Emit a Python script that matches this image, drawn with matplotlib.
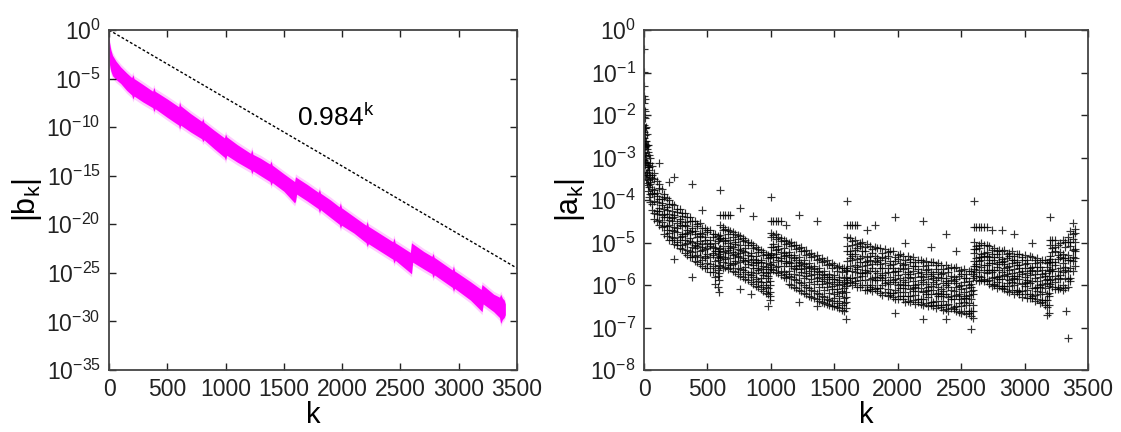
import numpy as np
import matplotlib
matplotlib.use("Agg")
import matplotlib.pyplot as plt

plt.rcParams['font.family'] = ['Liberation Sans', 'DejaVu Sans']
plt.rcParams['mathtext.fontset'] = 'custom'
plt.rcParams['mathtext.rm'] = 'Liberation Sans'
plt.rcParams['mathtext.it'] = 'Liberation Sans:italic'
plt.rcParams['mathtext.default'] = 'regular'

# ---- left panel: |b_k| band (log10 of upper / lower edge)
b_k = [0, 5, 15, 30, 60, 100, 150, 195, 205, 215, 290, 375, 385, 395, 500, 598, 605, 615,
       700, 795, 805, 815, 900, 990, 1000, 1010, 1100, 1215, 1225, 1235, 1300, 1380, 1390,
       1400, 1500, 1592, 1600, 1610, 1700, 1795, 1805, 1815, 1900, 1975, 1985, 1995, 2100,
       2205, 2215, 2225, 2330, 2435, 2445, 2455, 2585, 2595, 2605, 2700, 2770, 2780, 2790,
       2945, 2955, 2965, 3100, 3192, 3200, 3210, 3300, 3350, 3360, 3375, 3390, 3400]
b_hi = [-0.7, -1.3, -2.0, -2.6, -3.2, -3.8, -4.4, -4.9, -4.6, -5.0, -5.6, -6.3, -5.9, -6.3,
        -7.1, -7.9, -7.4, -7.8, -8.6, -9.4, -9.1, -9.5, -10.3, -11.1, -10.7, -11.0, -11.8,
        -12.7, -12.3, -12.8, -13.2, -13.8, -13.5, -13.9, -14.8, -15.6, -15.1, -15.2, -15.9,
        -16.7, -16.4, -16.8, -17.5, -18.2, -17.8, -18.3, -19.2, -20.1, -19.7, -20.2, -21.0,
        -21.8, -21.4, -21.9, -22.9, -21.9, -22.0, -22.8, -23.3, -23.0, -23.4, -24.7, -24.3,
        -24.8, -25.9, -26.7, -26.2, -26.3, -27.2, -27.5, -27.2, -27.6, -27.8, -28.2]
b_lo = [-2.6, -3.6, -4.2, -4.7, -5.1, -5.5, -6.2, -6.7, -7.1, -6.8, -7.4, -8.0, -8.4, -8.1,
        -9.0, -9.8, -10.2, -9.8, -10.5, -11.2, -11.5, -11.3, -12.2, -13.1, -13.4, -12.9,
        -13.6, -14.4, -14.8, -14.5, -15.0, -15.6, -16.0, -15.7, -16.6, -17.8, -17.6, -16.9,
        -17.6, -18.4, -18.8, -18.5, -19.3, -20.0, -20.4, -20.1, -20.9, -21.9, -22.3, -22.0,
        -22.8, -23.6, -24.0, -23.7, -25.0, -25.1, -23.9, -24.6, -25.1, -25.5, -25.2, -26.5,
        -26.9, -26.6, -27.8, -28.9, -29.0, -28.2, -29.0, -29.6, -30.2, -29.8, -29.6, -29.3]
b_tick_exp = [0, -5, -10, -15, -20, -25, -30, -35]

# ---- right panel: |a_k| points, columns of [k, -log10|a_k|, ...]
a_seg1 = [
    [0, 0.45, 0.98, 1.32, 1.55, 1.71, 1.86, 2.04, 2.23, 2.4, 2.55, 2.73, 2.9, 3.06],
    [5, 1.62, 1.91, 2.3, 2.47, 2.69, 2.95, 3.11],
    [10, 2.07, 2.31, 2.62, 2.75, 3.02, 3.18, 3.4],
    [15, 2.28, 2.6, 2.72, 2.97, 3.1, 3.36, 3.51],
    [20, 2.45, 2.71, 2.79, 3.12, 3.35, 3.41, 3.6],
    [30, 2.7, 2.86, 3.17, 3.23, 3.52, 3.64, 3.79],
    [40, 2.93, 3.22, 3.3, 3.41, 3.7, 3.94],
    [50, 3.02, 3.14, 3.45, 3.58, 3.62, 3.87, 4.05],
    [60, 3.2, 3.41, 3.48, 3.75, 3.83, 4.1, 4.24],
    [80, 3.36, 3.5, 3.77, 3.85, 4.02, 4.31, 4.44],
    [100, 3.55, 3.83, 3.9, 4.04, 4.27, 4.33, 4.5],
    [120, 3.12, 3.62, 3.71, 3.98, 4.19, 4.25, 4.47, 4.6],
    [140, 3.75, 3.97, 4.08, 4.12, 4.36, 4.51, 4.64],
    [160, 3.86, 3.93, 4.2, 4.34, 4.41, 4.62, 4.79],
    [180, 3.95, 4.16, 4.23, 4.39, 4.61, 4.7, 4.85],
    [200, 3.58, 4.01, 4.09, 4.33, 4.47, 4.58, 4.77, 4.94],
    [220, 4.1, 4.27, 4.42, 4.49, 4.71, 4.88, 4.95],
    [240, 3.45, 4.12, 4.35, 4.4, 4.63, 4.72, 4.9, 5.04, 5.38],
    [260, 4.2, 4.29, 4.53, 4.67, 4.75, 4.98, 5.05],
    [280, 4.22, 4.44, 4.49, 4.6, 4.86, 4.93, 5.14],
    [300, 4.3, 4.38, 4.62, 4.79, 4.84, 5.06, 5.15],
    [320, 4.31, 4.52, 4.58, 4.81, 4.95, 5.03, 5.24],
    [340, 4.4, 4.61, 4.7, 4.77, 5.01, 5.18, 5.29],
    [360, 4.41, 4.5, 4.76, 4.9, 4.97, 5.2, 5.35],
    [380, 3.62, 4.5, 4.67, 4.74, 4.99, 5.11, 5.23, 5.35, 5.8],
    [400, 4.5, 4.73, 4.81, 5.05, 5.13, 5.32, 5.44],
    [420, 4.56, 4.62, 4.87, 5.0, 5.08, 5.29, 5.45],
    [440, 4.55, 4.78, 4.85, 4.96, 5.21, 5.34, 5.5],
    [460, 4.23, 4.66, 4.8, 5.03, 5.11, 5.17, 5.42, 5.55],
    [480, 4.65, 4.88, 4.94, 5.16, 5.31, 5.37, 5.6],
    [500, 4.7, 4.76, 5.01, 5.12, 5.26, 5.48, 5.59],
    [520, 4.71, 4.93, 5.04, 5.09, 5.33, 5.5, 5.7],
    [540, 4.8, 4.86, 5.1, 5.24, 5.3, 5.55, 5.69],
    [560, 4.81, 5.02, 5.13, 5.2, 5.44, 5.61, 5.8, 5.98],
    [580, 4.85, 4.97, 5.19, 5.35, 5.41, 5.64, 5.79, 6.05],
    [590, 4.92, 5.15, 5.28, 5.53, 5.72, 5.88, 6.16],
]
a_seg2 = [
    [600, 3.76, 4.35, 4.6, 4.83, 4.9, 5.14, 5.31, 5.37, 5.55],
    [620, 4.35, 4.64, 4.71, 4.95, 5.08, 5.22, 5.45, 5.6],
    [640, 4.35, 4.68, 4.9, 4.97, 5.19, 5.33, 5.39, 5.58],
    [660, 4.35, 4.7, 4.79, 5.02, 5.17, 5.25, 5.49, 5.63],
    [680, 4.35, 4.73, 4.95, 5.08, 5.12, 5.36, 5.52, 5.61],
    [700, 4.76, 4.86, 5.1, 5.23, 5.29, 5.5, 5.66],
    [720, 4.79, 4.98, 5.04, 5.27, 5.43, 5.48, 5.7],
    [740, 4.83, 4.91, 5.15, 5.31, 5.35, 5.6, 5.74],
    [760, 4.19, 4.85, 5.07, 5.18, 5.24, 5.47, 5.62, 5.78, 6.1],
    [780, 4.89, 4.96, 5.2, 5.36, 5.42, 5.64, 5.81],
    [800, 4.95, 5.14, 5.22, 5.43, 5.57, 5.69, 5.86],
    [820, 4.98, 5.05, 5.29, 5.41, 5.5, 5.74, 5.89],
    [840, 5.02, 5.24, 5.31, 5.47, 5.7, 5.77, 5.93, 6.2],
    [860, 4.38, 5.06, 5.14, 5.39, 5.53, 5.6, 5.82, 5.97],
    [880, 5.1, 5.31, 5.42, 5.49, 5.71, 5.86, 6.02],
    [900, 5.15, 5.22, 5.46, 5.6, 5.65, 5.9, 6.05],
    [920, 5.18, 5.4, 5.47, 5.63, 5.84, 5.93, 6.1],
    [940, 5.22, 5.3, 5.55, 5.69, 5.76, 5.99, 6.14],
    [960, 5.26, 5.48, 5.57, 5.71, 5.93, 6.04, 6.18],
    [980, 5.3, 5.37, 5.62, 5.78, 5.84, 6.08, 6.21, 6.5],
    [990, 5.33, 5.51, 5.69, 5.9, 6.0, 6.17, 6.27, 6.36],
]
a_seg3 = [
    [1000, 3.92, 4.5, 4.78, 4.86, 5.1, 5.24, 5.3, 5.52, 5.62],
    [1020, 4.5, 4.82, 5.03, 5.11, 5.35, 5.47, 5.65],
    [1040, 4.5, 4.8, 4.92, 5.17, 5.28, 5.34, 5.58, 5.69],
    [1060, 4.5, 4.87, 5.09, 5.16, 5.4, 5.55, 5.72],
    [1080, 4.5, 4.9, 4.97, 5.22, 5.36, 5.44, 5.66, 5.76],
    [1100, 4.93, 5.14, 5.25, 5.31, 5.55, 5.7, 5.8],
    [1120, 4.6, 4.96, 5.03, 5.29, 5.43, 5.49, 5.73, 5.84],
    [1140, 5.0, 5.22, 5.3, 5.46, 5.68, 5.79, 5.97],
    [1160, 4.99, 5.08, 5.34, 5.48, 5.55, 5.8, 6.01],
    [1180, 5.06, 5.29, 5.37, 5.6, 5.73, 5.86, 6.04],
    [1200, 5.05, 5.16, 5.42, 5.56, 5.62, 5.89, 6.08],
    [1220, 4.35, 5.12, 5.34, 5.45, 5.52, 5.77, 5.94, 6.12, 6.4],
    [1240, 5.11, 5.21, 5.48, 5.63, 5.7, 5.95, 6.15],
    [1260, 5.2, 5.42, 5.51, 5.6, 5.84, 6.0, 6.18],
    [1280, 5.18, 5.29, 5.55, 5.71, 5.78, 6.04, 6.2],
    [1300, 5.26, 5.49, 5.57, 5.67, 5.92, 6.07, 6.25],
    [1320, 5.24, 5.35, 5.61, 5.77, 5.85, 6.11, 6.28],
    [1340, 5.32, 5.55, 5.63, 5.74, 5.98, 6.14, 6.31],
    [1360, 4.5, 5.3, 5.41, 5.68, 5.84, 5.91, 6.19, 6.34, 6.5],
    [1380, 5.38, 5.61, 5.7, 5.8, 6.05, 6.21, 6.37],
    [1400, 5.36, 5.47, 5.74, 5.9, 5.98, 6.25, 6.4],
    [1420, 5.44, 5.67, 5.76, 5.87, 6.12, 6.28, 6.42],
    [1440, 5.42, 5.53, 5.8, 5.96, 6.04, 6.32, 6.45],
    [1460, 5.5, 5.73, 5.82, 5.94, 6.19, 6.35, 6.47],
    [1480, 5.48, 5.59, 5.86, 6.02, 6.1, 6.38, 6.5],
    [1500, 5.52, 5.76, 5.85, 5.97, 6.22, 6.31, 6.49],
    [1520, 5.58, 5.67, 5.93, 6.09, 6.16, 6.42, 6.52],
    [1540, 5.55, 5.8, 5.88, 6.01, 6.26, 6.37, 6.55],
    [1560, 5.61, 5.7, 5.97, 6.13, 6.19, 6.46, 6.58],
    [1580, 5.59, 5.83, 5.92, 6.06, 6.3, 6.43, 6.6],
    [1590, 5.65, 5.81, 6.02, 6.17, 6.28, 6.41, 6.53, 6.8],
]
a_seg4 = [
    [1600, 4.02, 4.6, 4.88, 5.09, 5.2, 5.44, 5.59, 5.67, 5.88, 5.95],
    [1620, 4.6, 4.9, 5.19, 5.27, 5.37, 5.56, 5.84, 5.94],
    [1640, 4.6, 4.96, 5.05, 5.32, 5.42, 5.67, 5.83, 5.99],
    [1660, 4.6, 4.94, 5.17, 5.26, 5.52, 5.7, 5.9, 5.96],
    [1680, 4.6, 5.04, 5.14, 5.39, 5.58, 5.63, 5.82, 6.04],
    [1700, 5.01, 5.09, 5.37, 5.47, 5.72, 5.89, 6.05],
    [1720, 4.98, 5.2, 5.31, 5.55, 5.71, 5.79, 6.0],
    [1740, 5.11, 5.21, 5.46, 5.65, 5.7, 5.89, 6.11],
    [1760, 4.7, 5.04, 5.34, 5.43, 5.52, 5.72, 6.01, 6.11],
    [1780, 5.09, 5.32, 5.4, 5.66, 5.85, 6.04, 6.1],
    [1800, 5.15, 5.24, 5.5, 5.59, 5.84, 6.0, 6.15],
    [1820, 4.6, 5.11, 5.32, 5.43, 5.66, 5.81, 5.89, 6.1],
    [1840, 5.14, 5.37, 5.45, 5.71, 5.89, 6.08, 6.14],
    [1860, 5.13, 5.42, 5.51, 5.61, 5.8, 6.08, 6.18],
    [1880, 5.24, 5.34, 5.59, 5.77, 5.83, 6.01, 6.23],
    [1900, 5.15, 5.37, 5.48, 5.72, 5.88, 5.96, 6.17],
    [1920, 5.23, 5.31, 5.59, 5.69, 5.94, 6.1, 6.27],
    [1940, 5.21, 5.44, 5.53, 5.8, 5.98, 6.18, 6.24],
    [1960, 5.21, 5.51, 5.6, 5.69, 5.89, 6.18, 6.28],
    [1980, 4.4, 5.33, 5.43, 5.68, 5.87, 5.92, 6.11, 6.33, 6.67],
    [2000, 5.3, 5.39, 5.66, 5.76, 6.01, 6.17, 6.33],
    [2020, 5.27, 5.49, 5.59, 5.83, 5.98, 6.07, 6.27],
    [2040, 5.31, 5.54, 5.62, 5.88, 6.07, 6.26, 6.32],
    [2060, 5.0, 5.41, 5.5, 5.75, 5.94, 5.99, 6.17, 6.39],
    [2080, 5.32, 5.61, 5.7, 5.8, 5.99, 6.27, 6.37],
    [2100, 5.38, 5.47, 5.74, 5.84, 6.09, 6.25, 6.41],
    [2120, 5.35, 5.56, 5.67, 5.91, 6.06, 6.14, 6.35],
    [2140, 5.47, 5.56, 5.81, 5.99, 6.04, 6.23, 6.44],
    [2160, 5.41, 5.63, 5.72, 5.97, 6.15, 6.34, 6.4],
    [2180, 5.41, 5.7, 5.78, 5.88, 6.07, 6.34, 6.44],
    [2200, 4.5, 5.47, 5.56, 5.82, 5.92, 6.16, 6.32, 6.48, 6.8],
    [2220, 5.43, 5.64, 5.75, 5.98, 6.13, 6.21, 6.42],
    [2240, 5.54, 5.63, 5.87, 6.05, 6.11, 6.29, 6.5],
    [2260, 5.1, 5.47, 5.69, 5.78, 6.03, 6.21, 6.4, 6.46],
    [2280, 5.46, 5.75, 5.83, 5.93, 6.12, 6.39, 6.49],
    [2300, 5.53, 5.62, 5.88, 5.98, 6.22, 6.38, 6.54],
    [2320, 5.49, 5.7, 5.81, 6.04, 6.19, 6.27, 6.48],
    [2340, 5.53, 5.75, 5.84, 6.09, 6.27, 6.46, 6.52],
    [2360, 5.63, 5.72, 5.96, 6.14, 6.2, 6.38, 6.59],
    [2380, 4.8, 5.54, 5.83, 5.91, 6.01, 6.2, 6.47, 6.57, 6.8],
    [2400, 5.61, 5.7, 5.96, 6.05, 6.29, 6.44, 6.6],
    [2420, 5.57, 5.78, 5.88, 6.11, 6.26, 6.34, 6.54],
    [2440, 5.6, 5.82, 5.9, 6.15, 6.33, 6.52, 6.57],
    [2460, 5.2, 5.58, 5.86, 5.95, 6.04, 6.23, 6.5, 6.6],
    [2480, 5.68, 5.78, 6.02, 6.2, 6.25, 6.43, 6.64],
    [2500, 5.65, 5.74, 6.0, 6.09, 6.34, 6.49, 6.65],
    [2520, 5.62, 5.83, 5.94, 6.17, 6.31, 6.4, 6.6],
    [2540, 5.73, 5.83, 6.07, 6.25, 6.3, 6.48, 6.69],
    [2560, 5.68, 5.9, 5.99, 6.24, 6.42, 6.6, 6.66],
    [2580, 5.68, 5.97, 6.05, 6.15, 6.34, 6.62, 6.72, 7.04],
    [2590, 5.75, 5.84, 6.11, 6.21, 6.46, 6.62, 6.78],
]
a_seg5 = [
    [2600, 4.02, 4.63, 4.98, 5.15, 5.24, 5.43, 5.55, 5.62, 5.79],
    [2620, 4.63, 5.08, 5.16, 5.36, 5.51, 5.55, 5.7, 5.88],
    [2640, 4.63, 5.06, 5.13, 5.35, 5.43, 5.64, 5.78, 5.91],
    [2660, 4.63, 5.02, 5.26, 5.34, 5.42, 5.58, 5.81, 5.89],
    [2680, 4.63, 5.06, 5.25, 5.32, 5.54, 5.69, 5.85, 5.9],
    [2700, 4.63, 5.05, 5.23, 5.32, 5.52, 5.65, 5.72, 5.9],
    [2720, 5.08, 5.33, 5.4, 5.48, 5.65, 5.89, 5.97],
    [2740, 4.7, 5.18, 5.27, 5.48, 5.64, 5.69, 5.84, 6.03],
    [2760, 5.14, 5.34, 5.41, 5.64, 5.8, 5.97, 6.01],
    [2780, 5.19, 5.26, 5.5, 5.58, 5.8, 5.94, 6.08],
    [2800, 5.17, 5.35, 5.45, 5.65, 5.78, 5.85, 6.03],
    [2820, 4.7, 5.2, 5.39, 5.47, 5.69, 5.85, 6.02, 6.06],
    [2840, 5.18, 5.44, 5.51, 5.6, 5.77, 6.02, 6.1],
    [2860, 5.28, 5.36, 5.58, 5.75, 5.79, 5.96, 6.15],
    [2880, 5.24, 5.32, 5.56, 5.65, 5.88, 6.02, 6.17],
    [2900, 5.2, 5.4, 5.49, 5.71, 5.85, 5.93, 6.11],
    [2920, 4.8, 5.31, 5.4, 5.62, 5.79, 5.84, 6.0, 6.2],
    [2940, 5.26, 5.47, 5.54, 5.78, 5.95, 6.12, 6.17],
    [2960, 5.26, 5.53, 5.61, 5.7, 5.87, 6.13, 6.22],
    [2980, 5.33, 5.41, 5.66, 5.75, 5.98, 6.13, 6.28],
    [3000, 5.3, 5.5, 5.59, 5.81, 5.95, 6.03, 6.21],
    [3020, 5.4, 5.49, 5.72, 5.89, 5.94, 6.11, 6.31],
    [3040, 5.32, 5.6, 5.68, 5.77, 5.95, 6.22, 6.31],
    [3060, 5.0, 5.35, 5.57, 5.65, 5.9, 6.07, 6.26, 6.31],
    [3080, 5.4, 5.48, 5.74, 5.83, 6.07, 6.23, 6.38],
    [3100, 5.36, 5.57, 5.67, 5.9, 6.05, 6.13, 6.33],
    [3120, 5.47, 5.57, 5.81, 5.99, 6.04, 6.22, 6.43],
    [3140, 5.42, 5.64, 5.73, 5.98, 6.16, 6.35, 6.41],
    [3160, 5.42, 5.71, 5.79, 5.89, 6.08, 6.36, 6.46],
    [3180, 5.49, 5.58, 5.85, 5.95, 6.2, 6.36, 6.52, 6.7],
    [3190, 5.45, 5.67, 5.78, 6.02, 6.18, 6.26, 6.47, 6.65],
]
a_seg6 = [
    [3200, 4.39, 4.94, 5.05, 5.31, 5.38, 5.47, 5.64, 5.89, 5.97],
    [3220, 4.94, 5.14, 5.23, 5.46, 5.63, 5.68, 5.85, 6.05],
    [3240, 4.94, 5.1, 5.19, 5.45, 5.54, 5.79, 5.94, 6.1],
    [3260, 5.07, 5.3, 5.39, 5.66, 5.84, 6.04, 6.1],
    [3280, 5.0, 5.23, 5.35, 5.6, 5.76, 5.85, 6.07],
    [3300, 4.95, 5.27, 5.37, 5.48, 5.69, 6.01, 6.11],
    [3320, 4.99, 5.1, 5.37, 5.58, 5.64, 5.84, 6.08],
    [3330, 6.6],
    [3340, 4.88, 4.98, 5.29, 5.4, 5.68, 5.87, 6.05, 7.25],
    [3360, 4.73, 4.99, 5.09, 5.4, 5.61, 5.84, 5.91],
    [3380, 4.55, 4.79, 4.91, 5.17, 5.34, 5.44, 5.67],
    [3395, 4.69, 4.77, 4.99, 5.15, 5.2, 5.36, 5.55],
]
a_tick_exp = [0, -1, -2, -3, -4, -5, -6, -7, -8]
k_ticks = [0, 500, 1000, 1500, 2000, 2500, 3000, 3500]

a_k, a_val = [], []
for seg in [a_seg1, a_seg2, a_seg3, a_seg4, a_seg5, a_seg6]:
    for col in seg:
        for d in col[1:]:
            a_k.append(col[0])
            a_val.append(10.0 ** (-d))

fig = plt.figure(figsize=(11.21, 4.32), dpi=100)
ax1 = fig.add_axes([109 / 1121, 62 / 432, 408 / 1121, 340 / 432])
ax2 = fig.add_axes([644 / 1121, 62 / 432, 444 / 1121, 340 / 432])

# left
bk = np.array(b_k)
hi = np.array(b_hi)
lo = np.array(b_lo)
ax1.fill_between(bk, 10 ** (hi + 0.3), 10 ** (lo - 0.3), color='#ff70ff', alpha=0.35, lw=0)
ax1.fill_between(bk, 10 ** hi, 10 ** lo, color='#ff00ff', lw=0)
kk = np.linspace(0, 3500, 100)
ax1.plot(kk, 0.984 ** kk, color='black', lw=1.0, linestyle=(0, (2, 1.5)))
ax1.text(1613, 10 ** -9.0, '0.984$^{k}$', fontsize=19, ha='left', va='center')
ax1.set_yscale('log')
ax1.set_ylim(1e-35, 1)
ax1.set_yticks([10.0 ** e for e in b_tick_exp])
ax1.set_yticklabels(['$10^{%d}$' % e for e in b_tick_exp])
ax1.set_ylabel('|b$_k$|', fontsize=22, labelpad=2)

# right
ax2.scatter(a_k, a_val, marker='+', s=30, linewidths=0.85, color='black', alpha=0.8)
ax2.set_yscale('log')
ax2.set_ylim(1e-8, 1)
ax2.set_yticks([10.0 ** e for e in a_tick_exp])
ax2.set_yticklabels(['$10^{%d}$' % e for e in a_tick_exp])
ax2.set_ylabel('|a$_k$|', fontsize=22, labelpad=2)

for ax in (ax1, ax2):
    ax.set_xlim(0, 3500)
    ax.set_xticks(k_ticks)
    ax.minorticks_off()
    ax.tick_params(direction='in', top=True, right=True, length=5, width=1,
                   labelsize=16.5, pad=6, colors='#222222')
    ax.set_xlabel('k', fontsize=21, labelpad=0)
    for s in ax.spines.values():
        s.set_linewidth(1.3)
        s.set_color('#444444')

fig.savefig('out.png', dpi=100)
